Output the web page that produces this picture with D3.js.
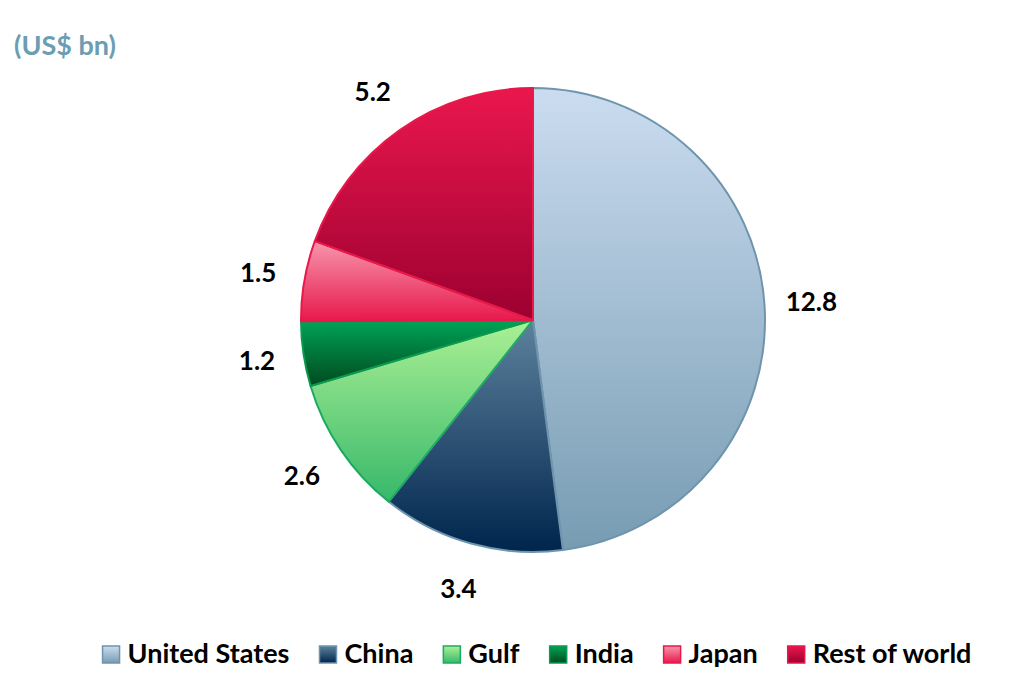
<!DOCTYPE html>
<html>
<head>
<meta charset="utf-8">
<script src="https://cdn.jsdelivr.net/npm/d3@7"></script>
<style>
  body { margin: 0; background: #fff; }
  text { font-family: Lato, "Open Sans", sans-serif; font-weight: bold; }
</style>
</head>
<body>
<div id="chart"></div>
<script>
const width = 1024;
const height = 686;

// datos
const categories = ["United States", "China", "Gulf", "India", "Japan", "Rest of world"];
const values = [12.8, 3.4, 2.6, 1.2, 1.5, 5.2];
const labels = ["12.8", "3.4", "2.6", "1.2", "1.5", "5.2"];

// colores: [arriba, abajo, borde]
const gradTop = ["#cbdcf0", "#5d829d", "#abf095", "#00a457", "#f796ad", "#ea174e"];
const gradBottom = ["#779cb2", "#00254d", "#37b86a", "#004a1e", "#e8184b", "#9c0030"];
const strokes = ["#6e95ad", "#6e95ad", "#1aaa62", "#0a9a50", "#e8194a", "#e8194a"];

const cx = 533, cy = 320, radius = 232;

const svg = d3.select("#chart").append("svg")
  .attr("width", width)
  .attr("height", height);

const defs = svg.append("defs");
categories.forEach((c, i) => {
  const g = defs.append("linearGradient")
    .attr("id", "grad" + i)
    .attr("x1", 0).attr("y1", 0).attr("x2", 0).attr("y2", 1);
  g.append("stop").attr("offset", "0%").attr("stop-color", gradTop[i]);
  g.append("stop").attr("offset", "100%").attr("stop-color", gradBottom[i]);
});

svg.append("text")
  .attr("x", 14)
  .attr("y", 55)
  .attr("fill", "#6c9db2")
  .style("font-size", "27px")
  .text("(US$ bn)");

const pie = d3.pie().sort(null).value(d => d);
const arcs = pie(values);

const arc = d3.arc().innerRadius(0).outerRadius(radius);
const labelArc = d3.arc().innerRadius(279).outerRadius(279);

const pieGroup = svg.append("g").attr("transform", `translate(${cx}, ${cy})`);

pieGroup.selectAll("path")
  .data(arcs)
  .join("path")
  .attr("d", arc)
  .attr("fill", (d, i) => `url(#grad${i})`)
  .attr("stroke", (d, i) => strokes[i])
  .attr("stroke-width", 2)
  .attr("stroke-linejoin", "round");

pieGroup.selectAll("text.lbl")
  .data(arcs)
  .join("text")
  .attr("class", "lbl")
  .attr("x", d => labelArc.centroid(d)[0])
  .attr("y", d => labelArc.centroid(d)[1])
  .attr("text-anchor", "middle")
  .attr("dy", "0.35em")
  .attr("fill", "#000")
  .style("font-size", "26px")
  .text((d, i) => labels[i]);

// leyenda
const legend = svg.append("g");
const items = legend.selectAll("g.item")
  .data(categories)
  .join("g")
  .attr("class", "item");

items.append("rect")
  .attr("width", 17)
  .attr("height", 17)
  .attr("y", -17)
  .attr("fill", (d, i) => `url(#grad${i})`)
  .attr("stroke", (d, i) => strokes[i])
  .attr("stroke-width", 1.5);

items.append("text")
  .attr("x", 25)
  .attr("y", 0)
  .attr("fill", "#000")
  .style("font-size", "27px")
  .text(d => d);

const gap = 30;
let xPos = 0;
items.each(function () {
  const w = this.getBBox().width;
  d3.select(this).attr("transform", `translate(${xPos}, 0)`);
  xPos += w + gap;
});
const total = xPos - gap;
legend.attr("transform", `translate(${537 - total / 2}, 663)`);
</script>
</body>
</html>
